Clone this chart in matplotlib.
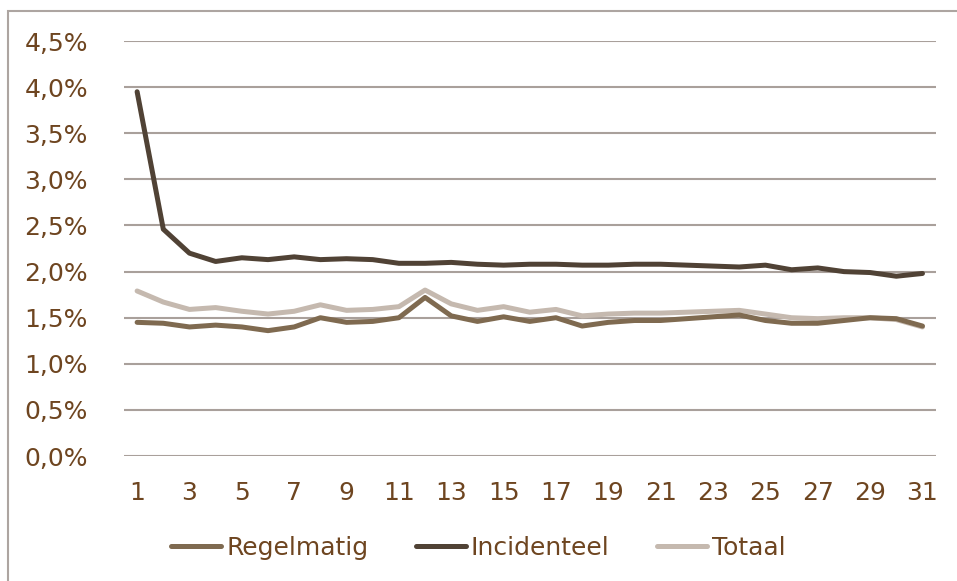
import matplotlib.pyplot as plt
from matplotlib.patches import Rectangle
from matplotlib.ticker import FuncFormatter

plt.rcParams["font.family"] = ["DejaVu Sans"]

days = list(range(1, 32))
regelmatig = [1.45, 1.44, 1.40, 1.42, 1.40, 1.36, 1.40, 1.50, 1.45, 1.46,
              1.50, 1.72, 1.52, 1.46, 1.51, 1.46, 1.50, 1.41, 1.45, 1.47,
              1.47, 1.49, 1.51, 1.53, 1.47, 1.44, 1.44, 1.47, 1.50, 1.49, 1.41]
incidenteel = [3.95, 2.46, 2.20, 2.11, 2.15, 2.13, 2.16, 2.13, 2.14, 2.13,
               2.09, 2.09, 2.10, 2.08, 2.07, 2.08, 2.08, 2.07, 2.07, 2.08,
               2.08, 2.07, 2.06, 2.05, 2.07, 2.02, 2.04, 2.00, 1.99, 1.95, 1.98]
totaal = [1.79, 1.67, 1.59, 1.61, 1.57, 1.54, 1.57, 1.64, 1.58, 1.59,
          1.62, 1.80, 1.65, 1.58, 1.62, 1.56, 1.59, 1.52, 1.54, 1.55,
          1.55, 1.56, 1.57, 1.58, 1.54, 1.50, 1.49, 1.50, 1.50, 1.48, 1.40]

text_color = "#6E4520"
grid_color = "#A9A09B"

fig = plt.figure(figsize=(9.57, 5.81), dpi=100)
ax = fig.add_axes([0.1296, 0.215, 0.848, 0.7144])

# outer chart frame (only top and left edges visible in the crop)
fig.patches.append(Rectangle((8 / 957, -0.1), 1.2, 1 - 11 / 581 + 0.1,
                             transform=fig.transFigure, fill=False,
                             edgecolor="#ADA5A1", linewidth=1.5))

ax.plot(days, regelmatig, color="#7F6A50", linewidth=3.6, label="Regelmatig",
        solid_capstyle="round", zorder=3)
ax.plot(days, incidenteel, color="#504235", linewidth=3.6, label="Incidenteel",
        solid_capstyle="round", zorder=3)
ax.plot(days, totaal, color="#C5B9AF", linewidth=3.6, label="Totaal",
        solid_capstyle="round", zorder=2)

ax.set_xlim(0.5, 31.5)
ax.set_ylim(0, 4.5)
ax.set_yticks([i * 0.5 for i in range(10)])
ax.set_xticks(range(1, 32, 2))
ax.yaxis.set_major_formatter(FuncFormatter(lambda v, p: f"{v:.1f}%".replace(".", ",")))

ax.grid(axis="y", color=grid_color, linewidth=1.5)
ax.set_axisbelow(True)
for s in ax.spines.values():
    s.set_visible(False)
ax.tick_params(length=0, labelsize=18, labelcolor=text_color)
ax.tick_params(axis="y", pad=26)
ax.tick_params(axis="x", pad=18)

leg = fig.legend(loc="center", bbox_to_anchor=(0.5, 1 - 548 / 581), ncol=3,
                 frameon=False, fontsize=18, handlelength=2.0, handletextpad=0.2,
                 columnspacing=1.9)
for t in leg.get_texts():
    t.set_color(text_color)

fig.savefig("out.png", dpi=100)
